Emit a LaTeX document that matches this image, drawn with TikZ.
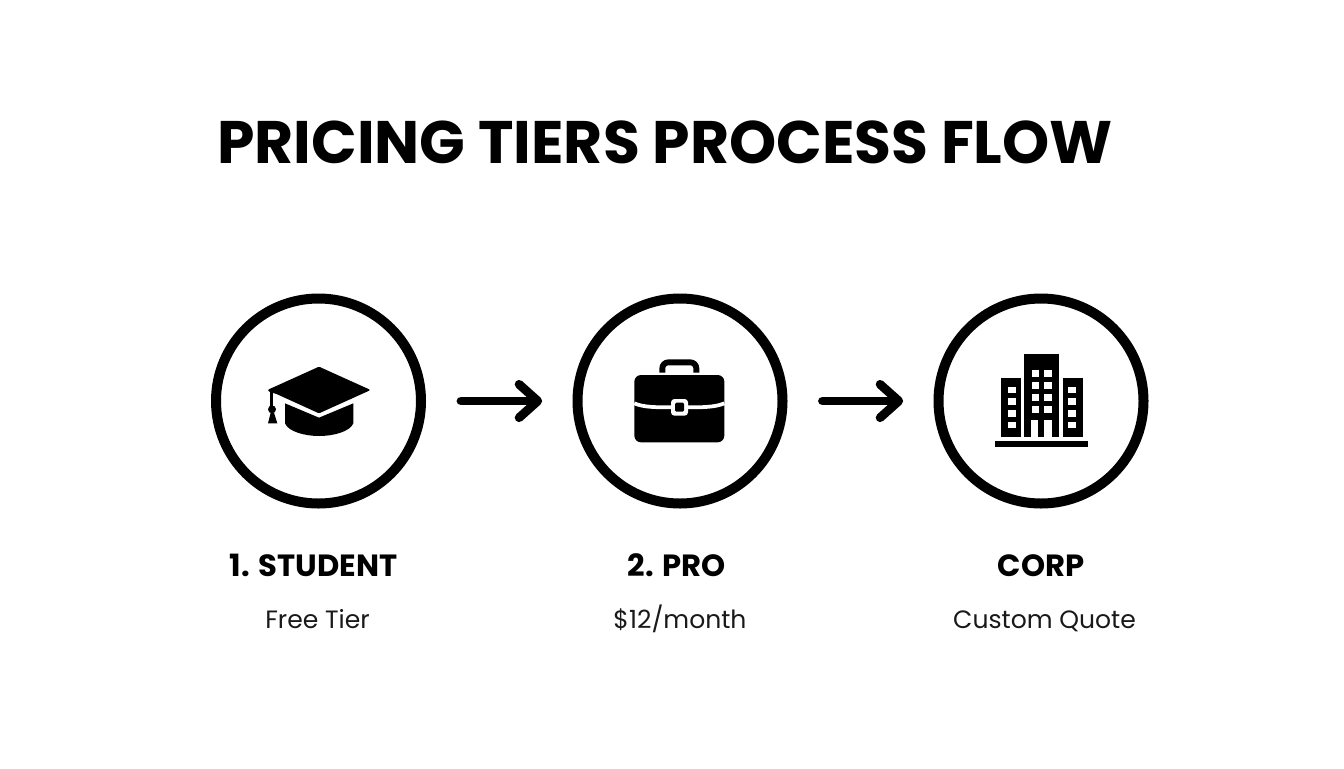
\documentclass[tikz,border=0pt]{standalone}
\usepackage{fontspec}
\setmainfont{Poppins}
\usetikzlibrary{arrows.meta}
\tikzset{
  tierring/.style={circle,draw=black,line width=7.5pt,minimum size=153.75pt,inner sep=0pt,outer sep=0pt},
  flowarrow/.style={line width=6.6pt,line cap=round,draw=black,
    -{Straight Barb[length=14pt,width=25pt,line width=6.6pt,round]},
    shorten <=30pt,shorten >=26.5pt},
  titletext/.style={font=\fontsize{45pt}{50pt}\selectfont\bfseries,inner sep=0pt,anchor=base,text=black},
  tiername/.style={font=\fontsize{23pt}{26pt}\selectfont\bfseries,inner sep=0pt,anchor=base,text=black},
  tiernote/.style={font=\fontsize{18.8pt}{22pt}\selectfont,inner sep=0pt,anchor=base,text=black!90}
}
\begin{document}
\begin{tikzpicture}[x=0.75pt,y=-0.75pt]
\useasboundingbox (0,0) rectangle (1344,768);
\fill[white] (0,0) rectangle (1344,768);
\node[titletext] (title) at (665,163) {PRICING TIERS PROCESS FLOW};
\node[tierring] (c1) at (318.5,401) {};
\node[tierring] (c2) at (680,401) {};
\node[tierring] (c3) at (1041,401) {};
\draw[flowarrow] (c1) -- (c2);
\draw[flowarrow] (c2) -- (c3);
\node[tiername] (n1) at (313.5,576) {1. STUDENT};
\node[tiername] (n2) at (677,576) {2. PRO};
\node[tiername] (n3) at (1041,576) {CORP};
\node[tiernote] (s1) at (317.5,628) {Free Tier};
\node[tiernote] (s2) at (680,628) {\$12/month};
\node[tiernote] (s3) at (1044.5,628) {Custom Quote};
% graduation cap
\begin{scope}[shift={(250,350)},x=0.25pt,y=-0.25pt]
\fill[black,rounded corners=1pt] (207,50) -- (362,120) -- (207,190) -- (75,130) -- (62,128) -- (52,120) -- cycle;
\fill[black] (105,160) -- (207,203) -- (310,160) -- (310,220) .. controls (300,245) and (250,258) .. (207,258) .. controls (165,258) and (115,245) .. (105,220) -- cycle;
\fill[black] (60,122) rectangle (70,168);
\fill[black] (66,178) circle [radius=12];
\fill[black] (62,188) -- (72,188) -- (82,220) -- (54,220) -- cycle;
\end{scope}
% briefcase
\begin{scope}[shift={(620,350)},x=0.25pt,y=-0.25pt]
\draw[black,line width=4.4pt,rounded corners=4.5pt] (127,68) -- (127,37) -- (229,37) -- (229,68);
\fill[black,rounded corners=5pt] (43,75) rectangle (313,277);
\draw[white,line width=2.8pt] (43,160) .. controls (70,172) and (110,172) .. (155,172);
\draw[white,line width=2.8pt] (200,172) .. controls (245,172) and (285,172) .. (313,160);
\fill[white,rounded corners=2.5pt] (153,147) rectangle (204,197);
\fill[black,rounded corners=1pt] (165,158) rectangle (192,185);
\end{scope}
% office buildings
\begin{scope}[shift={(980,345)},x=0.25pt,y=-0.25pt]
\fill[black] (133,27) rectangle (238,275);
\fill[black] (62,100) rectangle (122,275);
\fill[black] (248,100) rectangle (308,275);
\fill[black] (46,287) rectangle (323,305);
\foreach \wy in {75,112,148,184} {
  \fill[white] (155,\wy) rectangle (177,\wy+21);
  \fill[white] (193,\wy) rectangle (215,\wy+21);
}
\foreach \wy in {125,160,195,230} {
  \fill[white] (85,\wy) rectangle (107,\wy+20);
  \fill[white] (265,\wy) rectangle (287,\wy+20);
}
\fill[white] (153,225) rectangle (173,275);
\fill[white] (193,225) rectangle (217,275);
\end{scope}
\end{tikzpicture}
\end{document}
